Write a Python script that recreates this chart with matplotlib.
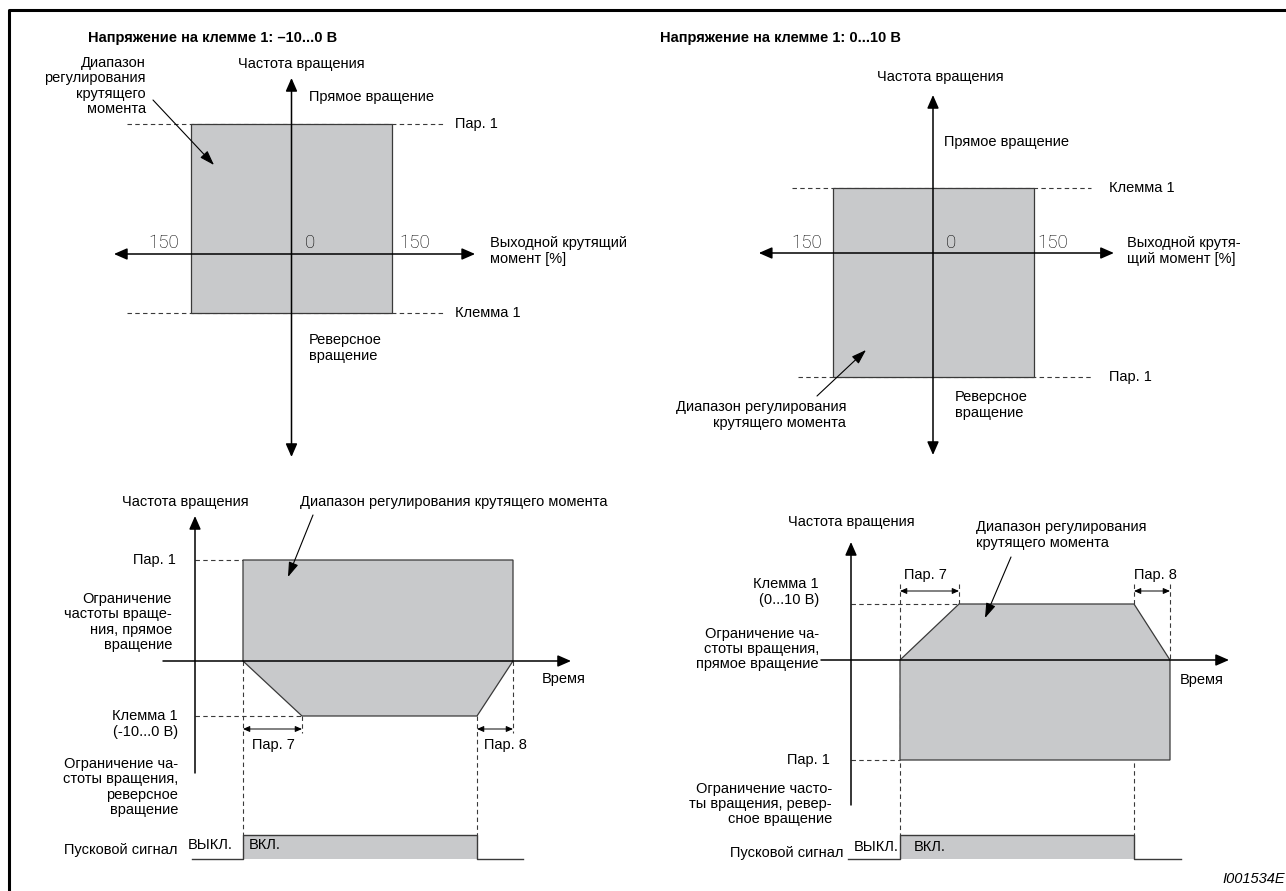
import matplotlib
matplotlib.use('Agg')
import matplotlib.pyplot as plt
from matplotlib.patches import Polygon, Rectangle

W, H = 1286, 891
plt.rcParams['font.family'] = ['Liberation Sans', 'DejaVu Sans']

# ---- diagram values (torque in %, speed/time in arbitrary units) ----
torque_limit = 150
torque_labels = ['150', '0', '150']

tl_par1, tl_klemma = 130, -59        # top left: Пар. 1 / Клемма 1 (-10...0 В)
tr_klemma, tr_par1 = 65, -124        # top right: Клемма 1 (0...10 В) / Пар. 1

bl_time = [48, 107, 282, 318]        # start, end of Пар. 7 ramp, signal off, end of Пар. 8 ramp
bl_par1, bl_klemma = 101, -55
br_time = [49, 108, 283, 319]
br_klemma, br_par1 = 56, -100

FILL = '#c8c9cb'
EDGE = '#3a3a3a'
DASH = (0, (4, 3))

fig = plt.figure(figsize=(W / 100, H / 100), dpi=100)


def panel(ox, oy, sx=1.0, sy=1.0):
    ax = fig.add_axes([0, 0, 1, 1])
    ax.set_xlim(-ox / sx, (W - ox) / sx)
    ax.set_ylim((oy - H) / sy, oy / sy)
    ax.axis('off')
    ax.patch.set_alpha(0)
    return ax


def arrow(ax, p0, p1, style='-|>', lw=1.1, ms=10):
    ax.annotate('', xy=p1, xytext=p0,
                arrowprops=dict(arrowstyle=style + ',head_length=0.8,head_width=0.35',
                                lw=lw, color='k', mutation_scale=ms,
                                shrinkA=0, shrinkB=0), zorder=5)


def dashed(ax, xs, ys):
    ax.plot(xs, ys, color=EDGE, lw=0.8, ls=DASH, zorder=1)


# ---- top left: -10...0 V ----
ax = panel(291.5, 254, sx=0.67)
dashed(ax, [-245, 229], [tl_par1, tl_par1])
dashed(ax, [-245, 229], [tl_klemma, tl_klemma])
ax.add_patch(Rectangle((-torque_limit, tl_klemma), 2 * torque_limit, tl_par1 - tl_klemma,
                       fc=FILL, ec=EDGE, lw=0.9, zorder=2))
arrow(ax, (-265, 0), (274, 0), '<|-|>')
arrow(ax, (0, -203), (0, 176), '<|-|>')

# ---- top right: 0...10 V ----
ax = panel(933, 253, sx=0.67)
dashed(ax, [-210, 236], [tr_klemma, tr_klemma])
dashed(ax, [-202, 236], [tr_par1, tr_par1])
ax.add_patch(Rectangle((-torque_limit, tr_par1), 2 * torque_limit, tr_klemma - tr_par1,
                       fc=FILL, ec=EDGE, lw=0.9, zorder=2))
arrow(ax, (-260, 0), (270, 0), '<|-|>')
arrow(ax, (0, -202), (0, 158), '<|-|>')

# ---- bottom left: time chart, -10...0 V ----
ax = panel(195, 661)
t0, t1, t2, t3 = bl_time
ax.add_patch(Polygon([(t0, bl_par1), (t3, bl_par1), (t3, 0), (t2, bl_klemma),
                      (t1, bl_klemma), (t0, 0)], closed=True,
                     fc=FILL, ec=EDGE, lw=0.9, zorder=2))
dashed(ax, [0, t0], [bl_par1, bl_par1])
dashed(ax, [0, t1], [bl_klemma, bl_klemma])
dashed(ax, [t0, t0], [0, -174])
dashed(ax, [t1, t1], [bl_klemma, -72])
dashed(ax, [t2, t2], [bl_klemma, -174])
dashed(ax, [t3, t3], [0, -72])
arrow(ax, (-32, 0), (376, 0))
arrow(ax, (0, -112), (0, 145))
arrow(ax, (t0, -68), (t1, -68), '<|-|>', lw=0.7, ms=5)
arrow(ax, (t2, -68), (t3, -68), '<|-|>', lw=0.7, ms=5)
ax.add_patch(Rectangle((t0, -198), t2 - t0, 24, fc=FILL, ec='none', zorder=2))
ax.plot([-3, t0, t0, t2, t2, 328], [-198, -198, -174, -174, -198, -198],
        color=EDGE, lw=1.0, zorder=3)

# ---- bottom right: time chart, 0...10 V ----
ax = panel(851, 660)
t0, t1, t2, t3 = br_time
ax.add_patch(Polygon([(t0, 0), (t1, br_klemma), (t2, br_klemma), (t3, 0),
                      (t3, br_par1), (t0, br_par1)], closed=True,
                     fc=FILL, ec=EDGE, lw=0.9, zorder=2))
dashed(ax, [0, t1], [br_klemma, br_klemma])
dashed(ax, [0, t0], [br_par1, br_par1])
dashed(ax, [t0, t0], [76, -175])
dashed(ax, [t1, t1], [76, br_klemma])
dashed(ax, [t2, t2], [76, -175])
dashed(ax, [t3, t3], [76, 0])
arrow(ax, (-30, 0), (378, 0))
arrow(ax, (0, -145), (0, 118))
arrow(ax, (t0, 69), (t1, 69), '<|-|>', lw=0.7, ms=5)
arrow(ax, (t2, 69), (t3, 69), '<|-|>', lw=0.7, ms=5)
ax.add_patch(Rectangle((t0, -199), t2 - t0, 24, fc=FILL, ec='none', zorder=2))
ax.plot([-3, t0, t0, t2, t2, 330], [-199, -199, -175, -175, -199, -199],
        color=EDGE, lw=1.0, zorder=3)

# ---- texts, frame and pointers in pixel coordinates ----
tx = fig.add_axes([0, 0, 1, 1])
tx.set_xlim(0, W)
tx.set_ylim(H, 0)
tx.axis('off')
tx.patch.set_alpha(0)

tx.plot([8.5, 8.5, W], [H, 10, 10], color='k', lw=2.2, solid_capstyle='butt')

FS = 10.5
LS = 1.12


def t(x, y, s, ha='left', **kw):
    kw.setdefault('fontsize', FS)
    tx.text(x, y, s, ha=ha, va='center', linespacing=LS, zorder=6, **kw)


def num(x, y, s):
    tx.text(x, y, s, ha='center', va='center', fontsize=13.5, zorder=6,
            family=['Roboto', 'DejaVu Sans'], fontweight='light')


def pointer(p0, p1):
    tx.annotate('', xy=p1, xytext=p0,
                arrowprops=dict(arrowstyle='-|>,head_length=0.9,head_width=0.3',
                                lw=0.8, color='k', mutation_scale=10,
                                shrinkA=0, shrinkB=0), zorder=6)


# top left
t(88, 38, 'Напряжение на клемме 1: –10...0 В', fontweight='bold')
t(146, 86, 'Диапазон\nрегулирования\nкрутящего\nмомента', ha='right')
pointer((153, 100), (214, 165))
t(301, 64, 'Частота вращения', ha='center')
t(309, 97, 'Прямое вращение')
t(455, 124, 'Пар. 1')
t(455, 313, 'Клемма 1')
t(490, 251, 'Выходной крутящий\nмомент [%]')
t(309, 348, 'Реверсное\nвращение')
for x, s in zip([164, 310, 415], torque_labels):
    num(x, 243, s)

# top right
t(660, 38, 'Напряжение на клемме 1: 0...10 В', fontweight='bold')
t(940, 77, 'Частота вращения', ha='center')
t(944, 142, 'Прямое вращение')
t(1109, 188, 'Клемма 1')
t(1109, 377, 'Пар. 1')
t(1127, 251, 'Выходной крутя-\nщий момент [%]')
t(955, 405, 'Реверсное\nвращение')
t(846, 415, 'Диапазон регулирования\nкрутящего момента', ha='right')
pointer((817, 396), (866, 350))
for x, s in zip([807, 951, 1053], torque_labels):
    num(x, 243, s)

# bottom left
t(185, 502, 'Частота вращения', ha='center')
t(300, 502, 'Диапазон регулирования крутящего момента')
pointer((313, 515), (288, 577))
t(176, 560, 'Пар. 1', ha='right')
t(172, 622, 'Ограничение\nчастоты враще-\nния, прямое\nвращение', ha='right')
t(542, 679, 'Время')
t(178, 724, 'Клемма 1\n(-10...0 В)', ha='right')
t(252, 745, 'Пар. 7')
t(484, 745, 'Пар. 8')
t(178, 787, 'Ограничение ча-\nстоты вращения,\nреверсное\nвращение', ha='right')
t(178, 850, 'Пусковой сигнал', ha='right')
t(188, 845, 'ВЫКЛ.')
t(249, 845, 'ВКЛ.')

# bottom right
t(851, 522, 'Частота вращения', ha='center')
t(976, 535, 'Диапазон регулирования\nкрутящего момента')
pointer((1011, 557), (985, 618))
t(819, 592, 'Клемма 1\n(0...10 В)', ha='right')
t(819, 649, 'Ограничение ча-\nстоты вращения,\nпрямое вращение', ha='right')
t(1180, 680, 'Время')
t(904, 575, 'Пар. 7')
t(1134, 575, 'Пар. 8')
t(830, 760, 'Пар. 1', ha='right')
t(832, 804, 'Ограничение часто-\nты вращения, ревер-\nсное вращение', ha='right')
t(844, 853, 'Пусковой сигнал', ha='right')
t(854, 847, 'ВЫКЛ.')
t(914, 847, 'ВКЛ.')

t(1285, 879, 'I001534E', ha='right', style='italic')

fig.savefig('out.png', dpi=100)
